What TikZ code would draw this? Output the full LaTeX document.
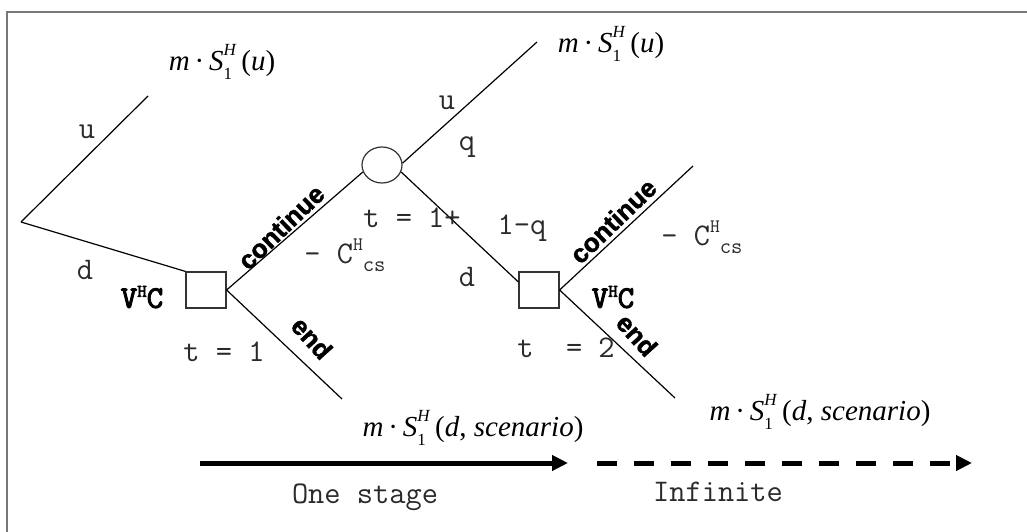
\documentclass[tikz,border=0pt]{standalone}
\usepackage{fontspec}
\setmainfont{Liberation Serif}
\newfontfamily\actf{Liberation Sans}[BoldFeatures={FakeBold=1.6}]
\newfontfamily\vfont{lmmono10-regular.otf}[FakeBold=3]
\usetikzlibrary{shapes.geometric,arrows.meta,calc}
\definecolor{txt}{HTML}{2A2A2A}
\definecolor{frame}{HTML}{777777}
\newcommand\mSx[1]{\textit{m}\,·\,\textit{S}\rlap{\raisebox{-0.32em}{\fontsize{17}{17}\selectfont 1}}\raisebox{0.5em}{\fontsize{17}{17}\selectfont\textit{H}}\,(#1)}
\newcommand\VHC{{\vfont V\raisebox{0.35em}{\fontsize{18}{18}\selectfont H}C}}
\newcommand\CHcs{-\ C\raisebox{0.42em}{\fontsize{19}{19}\selectfont H}\raisebox{-0.25em}{\fontsize{22}{22}\selectfont cs}}
\begin{document}
\begin{tikzpicture}[x=1pt,y=-1pt,
  branch/.style={line width=1.2pt,black},
  decbox/.style={draw=black!80,line width=1.2pt,minimum width=40pt,minimum height=36pt,inner sep=0pt},
  chance/.style={ellipse,draw=black!80,line width=1.2pt,minimum width=40pt,minimum height=36pt,inner sep=0pt},
  mono/.style={font=\fontsize{31.5}{31.5}\selectfont\ttfamily,text=txt,inner sep=0pt},
  act/.style={font=\fontsize{26}{26}\selectfont\actf\bfseries,inner sep=0pt},
  payoff/.style={font=\fontsize{29}{29}\selectfont,inner sep=0pt},
  stage/.style={line width=5pt,-{Triangle[length=16pt,width=15pt]}}
]
\useasboundingbox (0,0) rectangle (1027,532);
\draw[frame,line width=2pt] (7,532) -- (7,12) -- (1027,12);

\coordinate (root) at (21,222);
\coordinate (uend) at (148,96);
\node[decbox] (s1) at (206,290) {};
\node[chance] (c1) at (382,165) {};
\coordinate (u2end) at (537,42);
\node[decbox] (s2) at (539,290) {};
\coordinate (end1) at (342,399);
\coordinate (c2end) at (693,166);
\coordinate (end2) at (675,398);

\draw[branch] (root) -- (uend);
\draw[branch] (root) -- (s1.north west);
\draw[branch] (s1.east) -- (c1.200);
\draw[branch] (s1.east) -- (end1);
\draw[branch] (c1.5) -- (u2end);
\draw[branch] (c1.-20) -- ([yshift=8pt]s2.west);
\draw[branch] (s2.east) -- (c2end);
\draw[branch] (s2.east) -- (end2);

\coordinate (a1s) at (200,463);
\coordinate (a1e) at (568,463);
\draw[stage] (a1s) -- (a1e);
\coordinate (a2s) at (597,463);
\coordinate (a2e) at (972,463);
\draw[stage,dash pattern=on 20pt off 17pt] (a2s) -- (a2e);

\node[payoff] (p1) at (222,62) {\mSx{\textit{u}}};
\node[payoff] (p2) at (611,44) {\mSx{\textit{u}}};
\node[payoff] (p3) at (473,428) {\mSx{\textit{d}, \textit{scenario}}};
\node[payoff] (p4) at (820,412) {\mSx{\textit{d}, \textit{scenario}}};

\node[mono] (lu1) at (87,132) {u};
\node[mono] (ld1) at (85,270) {d};
\node[mono] (t1) at (224,352) {t = 1};
\node[mono] (t1p) at (412,218) {t = 1+};
\node[mono] (lu2) at (447,103) {u};
\node[mono] (lq) at (467,147) {q};
\node[mono] (l1q) at (522,228) {1-q};
\node[mono] (ld2) at (467,277) {d};
\node[mono] (t2) at (566,348) {t\ \ =\ 2};
\node[mono] (c1l) at (345,255) {\CHcs};
\node[mono] (c2l) at (702,237) {\CHcs};
\node[mono,text=black] (v1) at (142,297) {\VHC};
\node[mono,text=black] (v2) at (613,297) {\VHC};

\node[act,rotate=44] (cont1) at (281,227) {continue};
\node[act,rotate=44] (cont2) at (613,221) {continue};
\node[act,rotate=-48] (end1l) at (312,338) {end};
\node[act,rotate=-48] (end2l) at (637,335) {end};

\node[mono] (one) at (365,497) {One stage};
\node[mono] (inf) at (718,492) {Infinite};
\end{tikzpicture}
\end{document}
